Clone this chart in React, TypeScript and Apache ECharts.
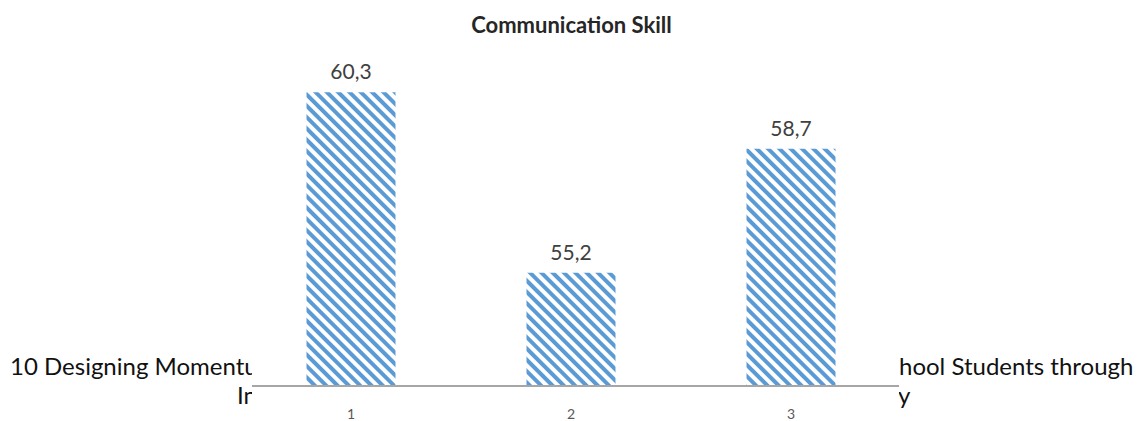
import React, { useEffect, useRef } from "react";
import * as echarts from "echarts";

// Chart content
const chartTitle = "Communication Skill";
const categories = ["1", "2", "3"];
const scores = [60.3, 55.2, 58.7];

// Value range of the (hidden) vertical axis
const yMin = 52;
const yMax = 62;

// Surrounding page text that shows around the figure
const pageLineLeft = "10 Designing Momentu";
const pageLineRight = "hool Students through";
const pageLine2Left = "In";
const pageLine2Right = "y";

const BAR_BLUE = "#5b9bd5";
const FONT = "Lato, 'Noto Sans', sans-serif";

export default function App() {
  const ref = useRef<HTMLDivElement>(null);

  useEffect(() => {
    if (!ref.current) return;
    const chart = echarts.init(ref.current, undefined, { renderer: "svg" });

    const pageText = (text: string, x: number, y: number, align: string) => ({
      type: "text",
      x,
      y,
      z: 0,
      style: {
        text,
        fill: "#111",
        font: `24px ${FONT}`,
        textAlign: align,
        textVerticalAlign: "top",
      },
    });

    chart.setOption({
      animation: false,
      backgroundColor: "#ffffff",
      title: {
        text: chartTitle,
        left: "center",
        top: 8,
        textStyle: {
          fontFamily: FONT,
          fontWeight: "bold",
          fontSize: 22,
          color: "#262626",
        },
      },
      grid: { left: 241, right: 242, top: 32, bottom: 35 },
      xAxis: {
        type: "category",
        z: 5,
        data: categories,
        axisLine: { show: false },
        axisTick: { show: false },
        axisLabel: {
          margin: 20,
          fontFamily: FONT,
          fontSize: 14,
          color: "#595959",
        },
      },
      yAxis: {
        type: "value",
        min: yMin,
        max: yMax,
        show: false,
        splitLine: { show: false },
      },
      graphic: [
        pageText(pageLineLeft, 10, 353, "left"),
        pageText(pageLineRight, 899, 353, "left"),
        pageText(pageLine2Left, 257, 382, "right"),
        pageText(pageLine2Right, 898, 382, "left"),
        // white figure area laid over the page text
        {
          type: "rect",
          z: 1,
          shape: { x: 252, y: 0, width: 647, height: 421 },
          style: { fill: "#ffffff" },
        },
        // category axis baseline
        {
          type: "line",
          z: 3,
          shape: { x1: 252, y1: 386, x2: 899, y2: 386 },
          style: { stroke: "#a6a6a6", lineWidth: 2 },
        },
      ],
      series: [
        {
          type: "bar",
          z: 2,
          data: scores,
          barWidth: 89,
          itemStyle: {
            color: "#ffffff",
            decal: {
              symbol: "rect",
              symbolSize: 1,
              dashArrayX: [1, 0],
              dashArrayY: [3.5, 3.5],
              rotation: Math.PI / 4,
              color: BAR_BLUE,
            },
          },
          label: {
            show: true,
            position: "top",
            distance: 11,
            fontFamily: FONT,
            fontSize: 21,
            color: "#404040",
            formatter: (p: any) => String(p.value).replace(".", ","),
          },
        },
      ],
    });

    return () => chart.dispose();
  }, []);

  return (
    <div
      ref={ref}
      style={{ position: "absolute", left: 0, top: 0, width: 1143, height: 421 }}
    />
  );
}
